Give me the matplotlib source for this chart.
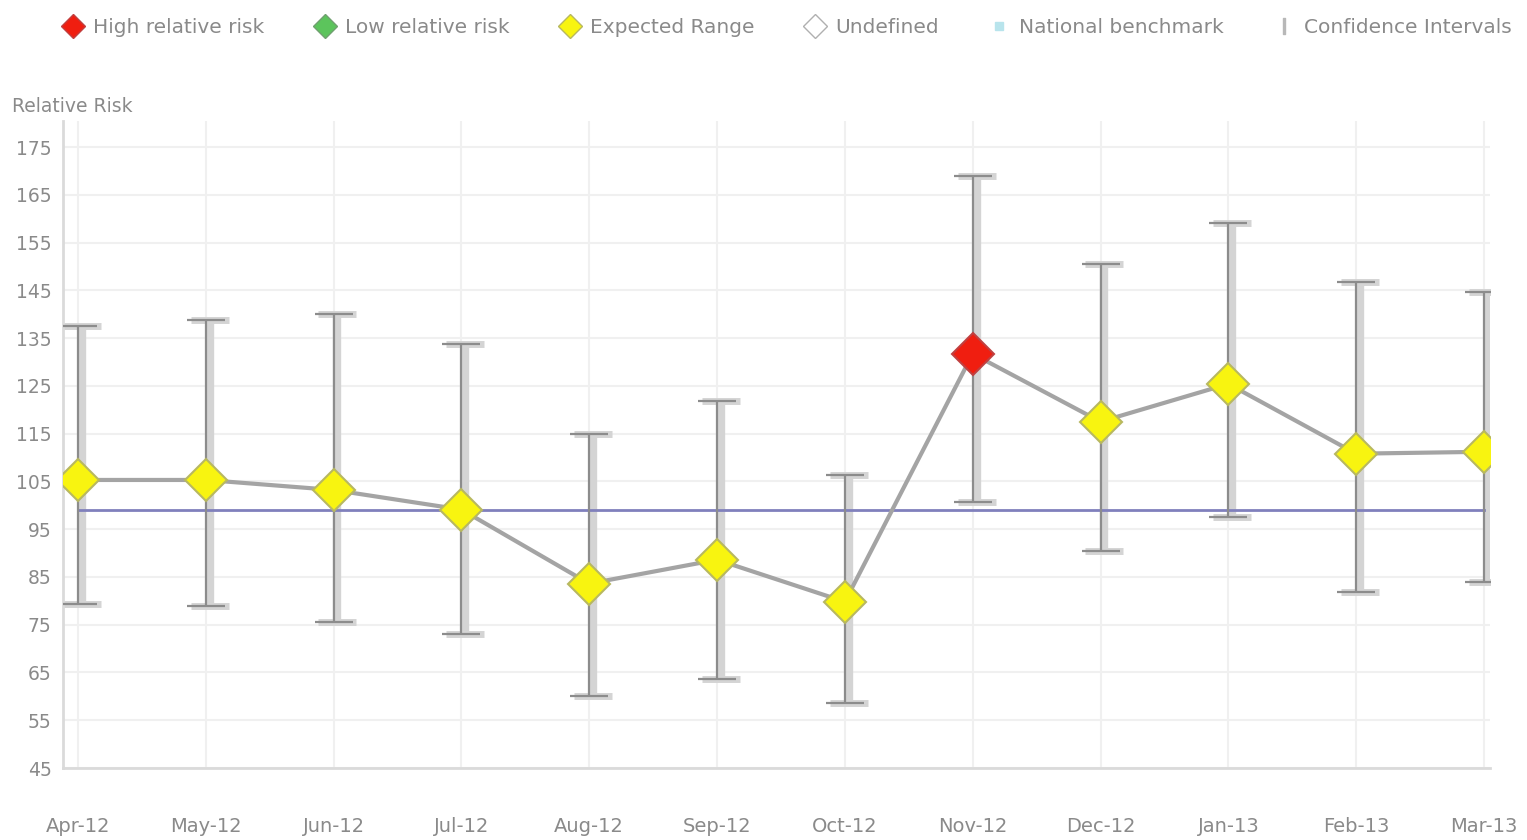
import numpy as np
import matplotlib.pyplot as plt
from matplotlib.lines import Line2D

# data
months = ["Apr-12", "May-12", "Jun-12", "Jul-12", "Aug-12", "Sep-12",
          "Oct-12", "Nov-12", "Dec-12", "Jan-13", "Feb-13", "Mar-13"]
relative_risk = [105.3, 105.3, 103.2, 99.1, 83.6, 88.6, 79.8, 131.7, 117.5, 125.4, 110.8, 111.2]
ci_upper = [137.6, 138.8, 140.1, 133.8, 115.0, 121.9, 106.4, 168.9, 150.5, 159.1, 146.8, 144.7]
ci_lower = [79.4, 79.0, 75.6, 73.1, 60.1, 63.7, 58.7, 100.7, 90.5, 97.6, 81.9, 84.0]
category = ["expected"] * 7 + ["high"] + ["expected"] * 4
benchmark = 99.0
y_ticks = [175, 165, 155, 145, 135, 125, 115, 105, 95, 85, 75, 65, 55, 45]

colors = {"high": "#f01e10", "low": "#5cc45c", "expected": "#f8f410", "undefined": "#ffffff"}
edges = {"high": "#c04040", "low": "#70a070", "expected": "#b8b860", "undefined": "#b0b0b0"}
text_col = "#8a8a8a"

fig = plt.figure(figsize=(15.27, 8.4), dpi=100)
ax = fig.add_axes([0.041, 0.0857, 0.935, 0.77])

x = np.arange(len(months))
y = np.array(relative_risk)
err = [y - np.array(ci_lower), np.array(ci_upper) - y]

# benchmark
ax.plot([x[0], x[-1]], [benchmark, benchmark], color="#8080bc", lw=2, zorder=2)

# confidence intervals: soft wide shadow + thin dark line
ax.errorbar(x + 0.03, y, yerr=err, fmt="none", ecolor="#d4d4d4", elinewidth=6,
            capsize=14, capthick=5, zorder=1)
ax.errorbar(x, y, yerr=err, fmt="none", ecolor="#8c8c8c", elinewidth=1.6,
            capsize=14, capthick=1.6, zorder=3)

# connecting line
ax.plot(x, y, color="#a4a4a4", lw=3, zorder=4)

for xi, yi, c in zip(x, y, category):
    ax.plot(xi, yi, marker="D", markersize=21, color=colors[c],
            markeredgecolor=edges[c], markeredgewidth=1.5, zorder=5)

ax.set_xlim(-0.12, 11.05)
ax.set_ylim(45, 180.4)
ax.set_xticks(x)
ax.set_xticklabels(months)
ax.set_yticks(y_ticks)
ax.tick_params(axis="both", length=0, colors=text_col)
ax.tick_params(axis="x", pad=35, labelsize=14)
ax.tick_params(axis="y", pad=8, labelsize=13.5)
ax.grid(True, color="#f0f0f0", lw=1.5)
ax.set_axisbelow(True)
for s in ["top", "right"]:
    ax.spines[s].set_visible(False)
for s in ["left", "bottom"]:
    ax.spines[s].set_color("#dadada")
    ax.spines[s].set_linewidth(2)

fig.text(0.008, 0.873, "Relative Risk", color=text_col, fontsize=13.5, ha="left", va="center")

handles = [
    Line2D([], [], ls="none", marker="D", markersize=12, color=colors["high"], markeredgecolor=edges["high"]),
    Line2D([], [], ls="none", marker="D", markersize=12, color=colors["low"], markeredgecolor=edges["low"]),
    Line2D([], [], ls="none", marker="D", markersize=12, color=colors["expected"], markeredgecolor=edges["expected"]),
    Line2D([], [], ls="none", marker="D", markersize=12, color=colors["undefined"], markeredgecolor=edges["undefined"]),
    Line2D([], [], ls="none", marker="s", markersize=6, color="#b8e4ec"),
    Line2D([], [], ls="none", marker="$\\mathrm{I}$", markersize=11, color="#b8b8b8"),
]
labels = ["High relative risk", "Low relative risk", "Expected Range", "Undefined",
          "National benchmark", "Confidence Intervals"]
leg = fig.legend(handles, labels, loc="center", bbox_to_anchor=(0.515, 0.967), ncol=6,
                 frameon=False, fontsize=14.5, handletextpad=0.4, columnspacing=2.4,
                 handlelength=1.2)
for t in leg.get_texts():
    t.set_color(text_col)

fig.savefig("out.png", dpi=100)
